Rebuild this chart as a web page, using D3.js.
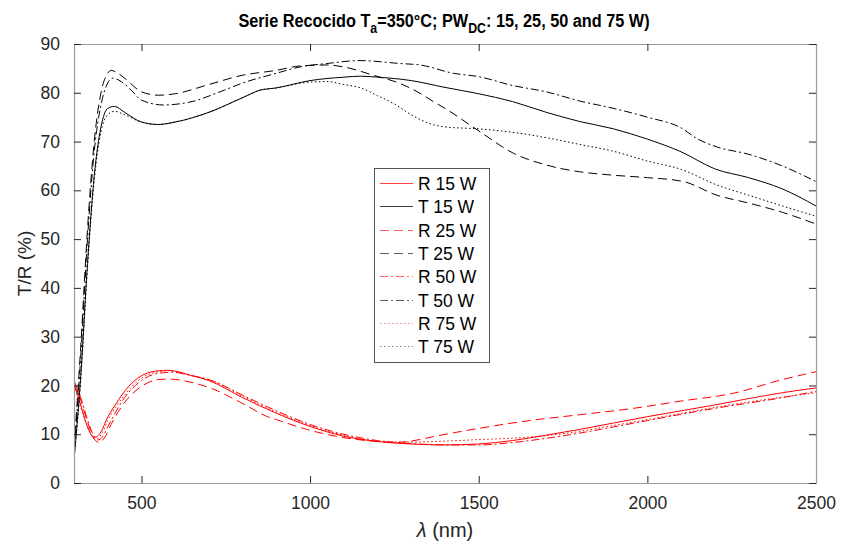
<!DOCTYPE html>
<html><head><meta charset="utf-8">
<script src="https://cdn.jsdelivr.net/npm/d3@7"></script>
<style>body{margin:0;background:#fff;} text{font-family:"Liberation Sans",Arial,Helvetica,sans-serif;}</style>
</head><body><svg id="c" width="843" height="546"></svg>
<script>
// wavelength (nm) / value (%) pairs
const T15 = [[300,4.7],[320,22],[340,45],[360,63],[380,73],[400,76.8],[420,77.2],[450,76],[500,74],[550,73.5],[600,74],[700,76],[800,79],[850,80.5],[900,81],[1000,82.5],[1100,83.2],[1150,83.4],[1200,83.2],[1300,82.5],[1400,81.1],[1500,79.8],[1600,78.2],[1700,76],[1800,74.1],[1900,72.6],[2000,70.5],[2100,67.9],[2200,64.4],[2300,62.6],[2400,60.3],[2500,56.8]];
const T25 = [[300,7],[320,28],[340,52],[360,70],[380,80],[400,84],[410,84.6],[430,84],[450,83],[500,80.2],[550,79.5],[600,79.8],[700,81.7],[800,83.6],[900,84.6],[970,85.5],[1050,85.7],[1100,85.3],[1187,83.6],[1267,81.9],[1326,79.9],[1365,78.2],[1400,76.8],[1504,72],[1603,67.6],[1700,65.2],[1741,64.5],[1800,63.8],[1899,63.1],[2000,62.6],[2107,61.8],[2206,59],[2300,57.4],[2400,55.5],[2500,53.1]];
const T50 = [[300,6],[320,26],[340,50],[360,68],[380,77.5],[400,82],[415,83],[440,82.3],[470,80.5],[500,78.5],[565,77.5],[650,78.2],[733,80.2],[800,82],[900,84],[970,85.3],[1050,86],[1148,86.6],[1267,86],[1326,85.7],[1425,84],[1500,83.3],[1600,81.5],[1700,80.2],[1800,78.3],[1900,76.8],[2000,75],[2100,72.8],[2150,70.5],[2206,68.9],[2300,67.4],[2400,65],[2500,61.8]];
const T75 = [[300,5],[320,21],[340,44],[360,62],[380,72],[400,75.5],[420,76.2],[450,75.5],[500,74],[550,73.5],[600,74],[700,76],[800,79],[850,80.5],[900,81],[1000,82.2],[1050,82.3],[1100,81.7],[1150,81],[1200,79.4],[1250,77.7],[1300,75.5],[1350,73.8],[1400,73],[1500,72.6],[1600,71.9],[1700,70.8],[1800,69.4],[1900,68],[2000,66],[2100,64.3],[2206,61.1],[2300,59],[2400,56.8],[2500,54.7]];
const R15 = [[300,20.3],[320,16],[340,11.5],[355,9.6],[365,9.4],[380,10.5],[400,13.5],[425,16.3],[450,18.8],[500,22],[550,23],[580,23.1],[650,22],[700,21],[800,17.5],[900,14.3],[1000,11.6],[1100,9.6],[1200,8.5],[1300,8],[1400,7.8],[1500,8],[1600,8.7],[1700,9.8],[1800,11],[1900,12.3],[2000,13.6],[2100,14.8],[2200,16],[2300,17.3],[2400,18.5],[2500,19.5]];
const R25 = [[300,20.5],[320,17],[340,12.5],[360,9],[375,8.3],[390,9.2],[410,12],[450,16.5],[500,19.8],[550,21.2],[580,21.3],[650,20.6],[700,19.6],[800,16.3],[870,13.7],[900,13],[1000,10.8],[1100,9.3],[1200,8.5],[1250,8.3],[1300,8.6],[1365,9.5],[1500,11.2],[1662,12.9],[1800,14],[1958,15.3],[2100,16.8],[2255,18.4],[2400,21.2],[2500,22.8]];
const R50 = [[300,21],[320,17.5],[340,13],[360,9.5],[370,8.8],[385,9.5],[400,11.5],[450,17.5],[500,21],[550,22.5],[590,22.7],[650,22],[700,21.2],[800,18],[900,14.8],[1000,12],[1100,10],[1200,8.7],[1300,8.1],[1400,7.8],[1500,7.8],[1600,8.3],[1761,9.8],[1900,11.5],[2000,12.8],[2200,15.3],[2400,17.5],[2500,18.8]];
const R75 = [[300,20],[320,15.5],[340,11.5],[360,9.2],[370,9.1],[385,10.5],[400,12.8],[450,18],[500,21.5],[550,22.8],[580,23],[650,22],[700,21.2],[800,17.8],[900,14.5],[1000,11.8],[1100,9.8],[1200,8.6],[1300,8.4],[1400,8.6],[1500,8.9],[1600,9.2],[1761,10.2],[1900,11.8],[2000,13],[2200,15.5],[2400,17.6],[2500,18.5]];
const seriesNames = ["R 15 W","T 15 W","R 25 W","T 25 W","R 50 W","T 50 W","R 75 W","T 75 W"];
const xTicks = [500,1000,1500,2000,2500];
const yTicks = [0,10,20,30,40,50,60,70,80,90];

const series = [
  {name:seriesNames[0], data:R15, color:"#ff0000", lcol:"#ff4040", dash:null},
  {name:seriesNames[1], data:T15, color:"#000000", lcol:"#404040", dash:null},
  {name:seriesNames[2], data:R25, color:"#ff0000", lcol:"#ff6060", dash:"9,5"},
  {name:seriesNames[3], data:T25, color:"#000000", lcol:"#606060", dash:"9,5"},
  {name:seriesNames[4], data:R50, color:"#ff0000", lcol:"#ff6060", dash:"8,3,2,3"},
  {name:seriesNames[5], data:T50, color:"#000000", lcol:"#606060", dash:"8,3,2,3"},
  {name:seriesNames[6], data:R75, color:"#ff0000", lcol:"#ff8080", dash:"1.5,2.5"},
  {name:seriesNames[7], data:T75, color:"#000000", lcol:"#808080", dash:"1.5,2.5"}
];

const svg = d3.select("#c");
const L=74, R=816, Tp=44, B=483;
const x = d3.scaleLinear().domain([300,2500]).range([L,R]);
const y = d3.scaleLinear().domain([0,90]).range([B,Tp]);
const txt = "#262626";

svg.append("defs").append("clipPath").attr("id","clip").append("rect")
  .attr("x",L).attr("y",Tp).attr("width",R-L).attr("height",B-Tp);

const line = d3.line().x(d=>x(d[0])).y(d=>y(d[1])).curve(d3.curveMonotoneX);
const g = svg.append("g").attr("clip-path","url(#clip)");
series.forEach(s=>{
  g.append("path").attr("d",line(s.data)).attr("fill","none")
   .attr("stroke",s.color).attr("stroke-width",1)
   .attr("stroke-dasharray",s.dash);
});

// axes (ticks inside, mirrored)
const tl = 7;
const axB = d3.axisBottom(x).tickValues(xTicks).tickSizeInner(-tl).tickSizeOuter(0).tickPadding(14).tickFormat(d3.format("d"));
const axT = d3.axisTop(x).tickValues(xTicks).tickSizeInner(-tl).tickSizeOuter(0).tickFormat("");
const axL = d3.axisLeft(y).tickValues(yTicks).tickSizeInner(-tl).tickSizeOuter(0).tickPadding(14);
const axR = d3.axisRight(y).tickValues(yTicks).tickSizeInner(-tl).tickSizeOuter(0).tickFormat("");
function style(sel){
  sel.select(".domain").attr("stroke","#9a9a9a").attr("stroke-width",1.2);
  sel.selectAll(".tick line").attr("stroke","#262626");
  sel.selectAll(".tick text").attr("fill",txt).style("font-size","17.5px").style("font-family","'Liberation Sans',Arial,sans-serif");
}
style(svg.append("g").attr("transform",`translate(0,${B})`).call(axB));
style(svg.append("g").attr("transform",`translate(0,${Tp})`).call(axT));
style(svg.append("g").attr("transform",`translate(${L},0)`).call(axL));
style(svg.append("g").attr("transform",`translate(${R},0)`).call(axR));

// title (slightly condensed like the reference)
const title = svg.append("text").attr("transform","translate(444,27) scale(0.88,1)").attr("text-anchor","middle")
  .attr("font-weight","bold").attr("font-size",18.5).attr("fill","#000");
title.append("tspan").text("Serie Recocido T");
title.append("tspan").attr("dy",6).attr("font-size",14).text("a");
title.append("tspan").attr("dy",-6).text("=350°C; PW");
title.append("tspan").attr("dy",6).attr("font-size",14).text("DC");
title.append("tspan").attr("dy",-6).text(": 15, 25, 50 and 75 W)");

// axis labels
const xl = svg.append("text").attr("x",445).attr("y",537).attr("text-anchor","middle")
  .attr("font-size",20).attr("fill",txt);
xl.append("tspan").attr("font-style","italic").text("λ");
xl.append("tspan").text(" (nm)");
svg.append("text").attr("transform",`translate(31,${(Tp+B)/2}) rotate(-90)`)
  .attr("text-anchor","middle").attr("font-size",19).attr("fill",txt).text("T/R (%)");

// legend
const lg = svg.append("g");
lg.append("rect").attr("x",374.5).attr("y",168.5).attr("width",115).attr("height",194)
  .attr("fill","#fff").attr("stroke","#555").attr("stroke-width",1);
series.forEach((s,i)=>{
  const yy = Math.round(183 + i*23.3) + 0.5;
  lg.append("line").attr("x1",380).attr("x2",413).attr("y1",yy).attr("y2",yy)
    .attr("stroke",s.lcol).attr("stroke-width",1).attr("stroke-dasharray",s.dash);
  lg.append("text").attr("x",418).attr("y",yy+6).attr("font-size",17.5).attr("fill","#000").text(s.name);
});
</script></body></html>
